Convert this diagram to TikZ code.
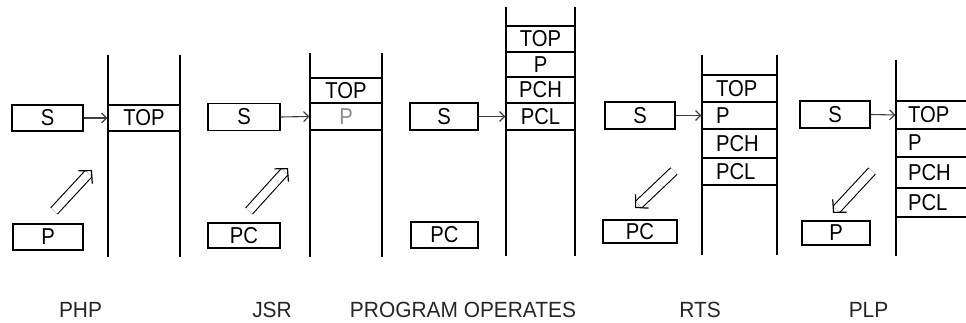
\documentclass[tikz,border=0pt]{standalone}
\usepackage{fontspec}
\setmainfont{Liberation Sans}
\newfontfamily\cellfont[FakeStretch=0.88]{Liberation Sans}
\newfontfamily\capfont[FakeStretch=0.95]{Liberation Sans}
\usetikzlibrary{arrows.meta,calc}
\begin{document}
\begin{tikzpicture}[x=1pt,y=-1pt,
  txt/.style={font=\cellfont\fontsize{23}{23}\selectfont},
  reg/.style={txt, draw, line width=1.4pt, inner sep=0pt},
  cell/.style={txt, draw, line width=1.2pt, inner sep=0pt},
  lcell/.style={cell, align=left, inner xsep=#1},
  wall/.style={line width=1.3pt},
  thickwall/.style={line width=2.3pt},
  ptr/.style={line width=1.1pt, -{Straight Barb[length=5pt,width=10pt,line width=1.2pt]}, draw=black!75},
  transfer/.style={double, double distance=8pt, line width=1.1pt, shorten >=5pt},
  transferhead/.style={line width=1.2pt, -{Straight Barb[length=9pt,width=19pt,line width=1.2pt]}},
  caption/.style={font=\capfont\fontsize{22}{22}\selectfont, text=black!85}]
\useasboundingbox (0,0) rectangle (966,323);

% ---------- PHP ----------
\coordinate (w1a) at (108,55); \coordinate (w1b) at (108,257);
\coordinate (w1c) at (180,55); \coordinate (w1d) at (180,257);
\node[cell, minimum width=72, minimum height=26] (top1) at (144,118) {TOP};
\draw[wall] (w1a) -- (w1b);
\draw[thickwall] (w1c) -- (w1d);
\node[reg, minimum width=71, minimum height=26] (s1) at (47.5,118) {S};
\node[reg, minimum width=70, minimum height=26] (p1) at (48,237) {P};
\draw[ptr] (s1.east) -- (top1.west);
\coordinate (d1a) at (54,211); \coordinate (d1b) at (92,170);
\draw[transfer] (d1a) -- (d1b);
\draw[transferhead] ($(d1b)!1pt!(d1a)$) -- (d1b);

% ---------- JSR ----------
\coordinate (w2a) at (310,53); \coordinate (w2b) at (310,257);
\coordinate (w2c) at (382,53); \coordinate (w2d) at (382,257);
\node[cell, minimum width=72, minimum height=25] (top2) at (346,90.5) {TOP};
\node[cell, minimum width=72, minimum height=27, text=black!45] (p2) at (346,116.5) {P};
\draw[wall] (w2a) -- (w2b);
\draw[thickwall] (w2c) -- (w2d);
\node[reg, minimum width=72, minimum height=27] (s2) at (244,117) {S};
\node[reg, minimum width=72, minimum height=25] (pc2) at (244,235.5) {PC};
\draw[ptr] (s2.east) -- (p2.west);
\coordinate (d2a) at (249,211); \coordinate (d2b) at (288,168);
\draw[transfer] (d2a) -- (d2b);
\draw[transferhead] ($(d2b)!1pt!(d2a)$) -- (d2b);

% ---------- PROGRAM OPERATES ----------
\coordinate (w3a) at (506,7); \coordinate (w3b) at (506,256);
\coordinate (w3c) at (575,7); \coordinate (w3d) at (575,256);
\node[cell, minimum width=69, minimum height=26] (top3) at (540.5,39) {TOP};
\node[cell, minimum width=69, minimum height=25] (p3) at (540.5,64.5) {P};
\node[cell, minimum width=69, minimum height=26] (pch3) at (540.5,90) {PCH};
\node[cell, minimum width=69, minimum height=27] (pcl3) at (540.5,116.5) {PCL};
\draw[wall] (w3a) -- (w3b);
\draw[thickwall] (w3c) -- (w3d);
\node[reg, minimum width=68, minimum height=27] (s3) at (444,116.5) {S};
\node[reg, minimum width=67, minimum height=26] (pc3) at (444.5,235) {PC};
\draw[ptr] (s3.east) -- (pcl3.west);

% ---------- RTS ----------
\coordinate (w4a) at (702,55); \coordinate (w4b) at (702,255);
\coordinate (w4c) at (777,55); \coordinate (w4d) at (777,255);
\node[lcell=14pt, text width=47pt, minimum height=27] (top4) at (739.5,88.5) {TOP};
\node[lcell=14pt, text width=47pt, minimum height=27] (p4) at (739.5,115.5) {P};
\node[lcell=14pt, text width=47pt, minimum height=29] (pch4) at (739.5,143.5) {PCH};
\node[lcell=14pt, text width=47pt, minimum height=27] (pcl4) at (739.5,171.5) {PCL};
\draw[wall] (w4a) -- (w4b);
\draw[thickwall] (w4c) -- (w4d);
\node[reg, minimum width=70, minimum height=27] (s4) at (640,115.5) {S};
\node[reg, minimum width=74, minimum height=23] (pc4) at (640,231.5) {PC};
\draw[ptr] (s4.east) -- (p4.west);
\coordinate (d4a) at (674,171); \coordinate (d4b) at (635,208);
\draw[transfer] (d4a) -- (d4b);
\draw[transferhead] ($(d4b)!1pt!(d4a)$) -- (d4b);

% ---------- PLP ----------
\coordinate (w5a) at (896,60); \coordinate (w5b) at (896,256);
\node[lcell=12pt, text width=56pt, minimum height=28] (top5) at (936,115) {TOP};
\node[lcell=12pt, text width=56pt, minimum height=28] (p5c) at (936,143) {P};
\node[lcell=12pt, text width=56pt, minimum height=31] (pch5) at (936,172.5) {PCH};
\node[lcell=12pt, text width=56pt, minimum height=29] (pcl5) at (936,202.5) {PCL};
\draw[wall] (w5a) -- (w5b);
\node[reg, minimum width=70, minimum height=27] (s5) at (835,114.5) {S};
\node[reg, minimum width=68, minimum height=24] (p5) at (836,233) {P};
\draw[ptr] (s5.east) -- (top5.west);
\coordinate (d5a) at (872,171); \coordinate (d5b) at (833,213);
\draw[transfer] (d5a) -- (d5b);
\draw[transferhead] ($(d5b)!1pt!(d5a)$) -- (d5b);

% ---------- captions ----------
\node[caption] (c1) at (80.5,310) {PHP};
\node[caption] (c2) at (272,310) {JSR};
\node[caption] (c3) at (463,310) {PROGRAM OPERATES};
\node[caption] (c4) at (700,310) {RTS};
\node[caption] (c5) at (868.5,310) {PLP};
\end{tikzpicture}
\end{document}
